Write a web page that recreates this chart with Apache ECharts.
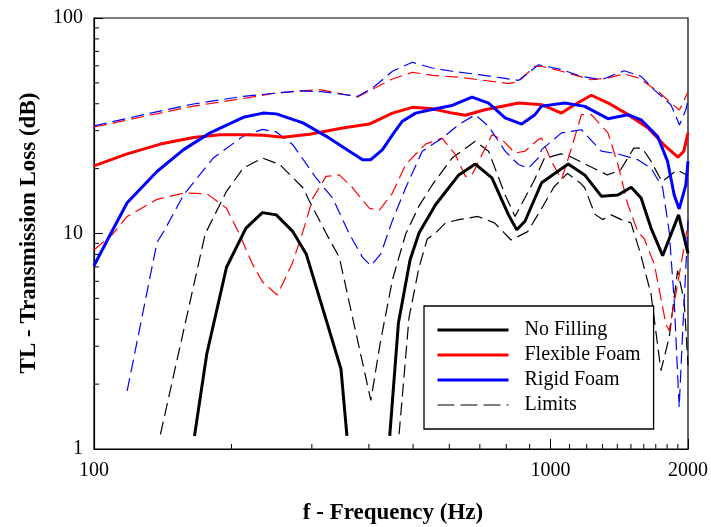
<!DOCTYPE html>
<html><head><meta charset="utf-8">
<script src="https://cdn.jsdelivr.net/npm/echarts@6/dist/echarts.min.js"></script>
<style>html,body{margin:0;padding:0;background:#fff}#c{width:711px;height:527px}</style>
</head><body><div id="c"></div>
<script>
// ---- tick values ----
const xTickLabels = [100, 1000, 2000];
const xMinorTicks = [200,300,400,500,600,700,800,900,1100,1200,1300,1400,1500,1600,1700,1800,1900];
const yMinorTicks = [2,3,4,5,6,7,8,9,20,30,40,50,60,70,80,90];
const legendNames = ['No Filling','Flexible Foam','Rigid Foam','Limits'];

// ---- data: [frequency Hz, TL dB] ----
const noFillingLow = [[166,1.15],[176.6,2.76],[195.1,6.97],[215.2,10.6],[233.8,12.5],[250.8,12.2],[272.7,10.2],[291.6,8.04],[347.5,2.35],[358.1,1.15]];
const noFillingHigh = [[444.4,1.15],[464.2,3.83],[492.3,7.53],[515.1,10.05],[559.8,13.6],[629.5,18.7],[684.1,21.0],[744,18.1],[808.9,12.2],[843.2,10.4],[879,11.4],[955.8,17.2],[1093,21.0],[1187.9,18.7],[1291.6,14.9],[1404.5,15.1],[1501.6,16.4],[1578.8,14.6],[1659.6,10.6],[1759.8,7.89],[1907.3,12.2],[2000,8.09]];
const noFillingUpper = [[139.8,1.17],[175.2,9.95],[195.1,15.7],[212.3,20.1],[233.8,22.4],[255.2,20.9],[271.8,18.3],[286.8,16.3],[295.5,14.3],[322.2,10.05],[344.6,7.75],[404,1.68],[423.5,3.1],[450.5,6.1],[481.6,9.95],[515,13.4],[550.6,16.8],[608.7,22.4],[684.1,26.8],[731.6,24.1],[795.2,15.1],[836,12.0],[921.6,17.7],[968.9,22.3],[1053,23.4],[1098,22.9],[1224,20.4],[1331,18.7],[1423,19.7],[1522,24.9],[1587,24.9],[1654,21.9],[1754,17.4],[1891,19.7],[1988,18.7]];
const noFillingLower = [[465.8,1.17],[489.8,4.08],[515.1,6.97],[537,9.43],[559.8,10.05],[588.6,11.2],[629.5,11.6],[693,12.0],[754,11.2],[819.5,9.33],[891,10.2],[952.6,12.9],[1018.6,16.5],[1089,19.0],[1164,17.1],[1188,16.3],[1250,12.3],[1300,11.6],[1358,12.2],[1428,11.6],[1500,11.2],[1573,8.09],[1659.6,5.24],[1744.9,2.31],[1819.2,3.3],[1897.6,6.72],[1961.6,4.88],[2000,2.45]];
const flexible = [[100,20.6],[118.2,23.4],[139.8,26.0],[165.1,27.9],[188.8,28.7],[212.3,28.7],[234.6,28.6],[259.4,28.0],[296.6,28.9],[350.4,30.9],[400.7,32.2],[450.5,36.2],[498.1,38.5],[550.6,37.9],[608.7,36.2],[650.8,35.4],[718.2,37.5],[851.7,40.3],[955.8,39.6],[1056.8,36.2],[1128,39.6],[1228.5,43.8],[1337.9,40.3],[1479,35.6],[1635,30.9],[1771.6,25.8],[1900.7,22.6],[1958.5,24.1],[2000,29.3]];
const flexibleUpper = [[100,31.2],[128.5,34.9],[165.1,39.0],[212.3,42.3],[250.8,44.9],[312.2,46.5],[377.9,43.0],[450.5,52.1],[498.1,56.0],[550.6,54.2],[630.5,53.1],[696.9,51.7],[810.1,49.6],[851.7,50.8],[922.9,59.7],[955.8,59.7],[1056.8,56.6],[1228.5,51.7],[1337.9,52.7],[1449.6,55.0],[1555,52.7],[1719,45.7],[1816.6,41.1],[1916,37.4],[2000,45.4]];
const flexibleLower = [[100,8.38],[110,9.95],[118.2,12.0],[137.4,14.4],[157.1,15.4],[176.6,15.3],[195.1,13.1],[208,10.0],[222,7.27],[233.8,5.97],[252,5.18],[271.8,7.27],[286.8,10.2],[301.5,14.6],[322.2,18.4],[344.6,18.7],[368.5,16.3],[400.7,13.1],[421.3,12.8],[450.5,15.4],[481.6,20.9],[532.3,26.0],[578.9,27.7],[618.9,23.2],[650.8,18.4],[672.9,18.7],[707.5,23.2],[744,28.7],[782.1,27.3],[836,23.6],[879,24.1],[940.1,27.3],[955.8,27.7],[1005,21.6],[1056.8,17.8],[1111.3,24.9],[1168.4,35.6],[1228.5,35.6],[1335.8,29.3],[1404.5,20.9],[1476.9,13.6],[1552.9,10.2],[1604.8,9.43],[1687.2,7.22],[1789.2,3.8],[1819.2,3.54],[1897.6,5.83],[1978.4,9.6],[2000,11.5]];
const rigid = [[100,7.09],[108.7,9.95],[118.2,13.9],[137.4,19.4],[157.1,24.5],[179.6,29.3],[212.3,34.6],[234.6,36.2],[250.8,35.9],[286.8,32.6],[327.8,27.7],[362.5,24.1],[387.5,22.0],[404,22.0],[428.4,24.5],[450.5,28.7],[473.6,33.2],[506.4,36.2],[559.8,37.9],[608.7,39.3],[672.9,42.9],[731.6,40.3],[795.2,34.4],[864.6,32.2],[924.3,35.6],[955.8,39.0],[1074.2,40.3],[1187.9,38.9],[1335.8,34.1],[1476.9,35.6],[1578.8,33.7],[1716.2,28.2],[1804.5,21.6],[1865.5,15.1],[1913,13.0],[1978.4,16.8],[2000,21.6]];
const rigidUpper = [[100,31.6],[128.5,35.6],[165.1,39.9],[212.3,43.3],[281.1,45.9],[315.4,45.5],[377.9,43.3],[407.4,47.3],[450.5,56.6],[498.1,62.3],[550.6,58.6],[608.7,56.6],[696.9,54.6],[782.1,52.7],[851.7,51.4],[941.6,60.7],[1056.8,57.6],[1168.4,53.6],[1291.6,51.7],[1449.6,56.9],[1578.8,53.6],[1684.9,46.5],[1834.8,39.6],[1916,31.9],[1978.4,37.5],[2000,41.6]];
const rigidLower = [[118.2,1.86],[137.4,9.1],[142.1,10.2],[157.1,15.1],[182.5,22.4],[212.3,28.3],[233.8,30.4],[250.8,29.6],[272.7,25.8],[306.5,18.1],[333.3,14.6],[362.5,9.95],[387.5,7.75],[404,7.09],[424.8,8.04],[450.5,11.5],[481.6,16.3],[523.6,24.1],[578.9,27.7],[629.5,32.0],[684.1,35.6],[731.6,31.4],[795.2,24.1],[850.4,20.9],[894.1,20.1],[940.1,22.4],[955.8,24.5],[1056.8,29.3],[1168.4,30.3],[1291.6,24.1],[1404.5,23.4],[1552.9,22.0],[1659.6,20.1],[1759.8,16.3],[1819.2,10.2],[1865.5,4.88],[1913,1.56],[1945.9,3.42],[1995.3,9.95],[2000,11.5]];

const FONT = "'Liberation Serif','Times New Roman',serif";
const DASH = [13, 6];

function solid(name, data, color) {
  return {name, type:'line', data, showSymbol:false, symbol:'none', silent:true,
    lineStyle:{color, width:3}, itemStyle:{color}, z:3};
}
function dashed(name, data, color) {
  return {name, type:'line', data, showSymbol:false, symbol:'none', silent:true,
    lineStyle:{color, width:1.2, type:DASH}, itemStyle:{color}, z:2};
}
function tickSeries(values, isX, len) {
  return {type:'custom', silent:true, clip:false, z:6,
    data: values.map(v => isX ? [v, 1] : [100, v]),
    renderItem: (params, api) => {
      const p = api.coord([api.value(0), api.value(1)]);
      return {type:'line',
        shape: isX ? {x1:p[0], y1:p[1], x2:p[0], y2:p[1]-len} : {x1:p[0], y1:p[1], x2:p[0]+len, y2:p[1]},
        style:{stroke:'#000', lineWidth:1}};
    }};
}

const chart = echarts.init(document.getElementById('c'), null, {renderer:'canvas'});
chart.setOption({
  animation:false,
  backgroundColor:'#fff',
  grid:{left:94, right:19, top:18, bottom:78, show:true, borderColor:'#000', borderWidth:1.2, backgroundColor:'transparent'},
  xAxis:{type:'log', logBase:10, min:100, max:2000,
    axisLine:{lineStyle:{color:'#000', width:1.2}},
    axisTick:{inside:true, length:10, lineStyle:{color:'#000'}},
    splitLine:{show:false},
    axisLabel:{color:'#000', fontFamily:FONT, fontSize:20, margin:12, showMaxLabel:true,
      formatter: v => { const r = Math.round(v); return xTickLabels.includes(r) ? String(r) : ''; }}},
  yAxis:{type:'log', logBase:10, min:1, max:100,
    axisLine:{lineStyle:{color:'#000', width:1.2}},
    axisTick:{inside:true, length:9, lineStyle:{color:'#000'}},
    splitLine:{show:false},
    axisLabel:{color:'#000', fontFamily:FONT, fontSize:20, margin:11,
      formatter: v => String(Math.round(v))}},
  legend:{left:424, top:306, orient:'vertical', data:[
      {name:legendNames[0], lineStyle:{width:3}},
      {name:legendNames[1], lineStyle:{width:3}},
      {name:legendNames[2], lineStyle:{width:3}},
      {name:legendNames[3], lineStyle:{type:[17,6], width:1.2}}],
    itemWidth:71, itemHeight:14, itemGap:5, padding:[14,13,14,12],
    itemStyle:{opacity:0, borderWidth:0},
    lineStyle:{opacity:1},
    borderColor:'#000', borderWidth:1.3, backgroundColor:'#fff',
    selectedMode:false,
    textStyle:{fontFamily:FONT, fontSize:20, color:'#000', padding:[0,0,0,11]}},
  graphic:[
    {type:'text', x:29, y:233, rotation:Math.PI/2, z:10,
      style:{text:'TL - Transmission Loss (dB)', font:"bold 23px 'Liberation Serif', serif", fill:'#000', align:'center', verticalAlign:'middle'}},
    {type:'text', x:393, y:513, z:10,
      style:{text:'f - Frequency (Hz)', font:"bold 23px 'Liberation Serif', serif", fill:'#000', align:'center', verticalAlign:'middle'}}
  ],
  series:[
    dashed('Limits', noFillingUpper, '#000'),
    dashed('Limits', noFillingLower, '#000'),
    dashed('Flexible Foam upper limit', flexibleUpper, '#ff0000'),
    dashed('Flexible Foam lower limit', flexibleLower, '#ff0000'),
    dashed('Rigid Foam upper limit', rigidUpper, '#0000ff'),
    dashed('Rigid Foam lower limit', rigidLower, '#0000ff'),
    solid('No Filling', noFillingLow, '#000'),
    solid('No Filling', noFillingHigh, '#000'),
    solid('Flexible Foam', flexible, '#ff0000'),
    solid('Rigid Foam', rigid, '#0000ff'),
    tickSeries(xMinorTicks, true, 5),
    tickSeries(yMinorTicks, false, 5)
  ]
});
</script></body></html>
